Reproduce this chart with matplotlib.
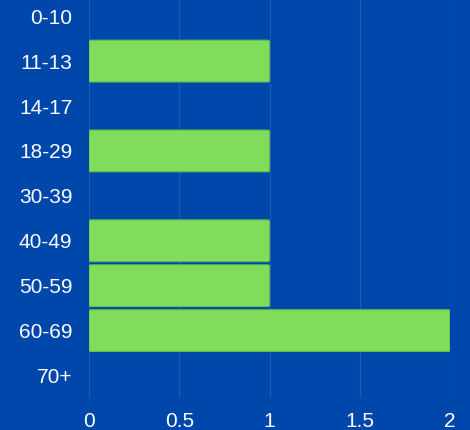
import matplotlib.pyplot as plt
from matplotlib.patches import FancyBboxPatch

ages = ["0-10", "11-13", "14-17", "18-29", "30-39", "40-49", "50-59", "60-69", "70+"]
counts = [0, 1, 0, 1, 0, 1, 1, 2, 0]

bg = "#0047ab"
plt.rcParams['font.family'] = ['Liberation Sans', 'DejaVu Sans']

fig = plt.figure(figsize=(4.7, 4.3), dpi=100, facecolor=bg)
ax = fig.add_axes([89/470, 32/430, 361/470, 398/430])
ax.set_facecolor(bg)

bars = ax.barh(range(len(ages)), counts, height=0.93, color="#80dc5a")
# swap plain bars for slightly rounded ones
for b in bars:
    x, y = b.get_x(), b.get_y()
    w, h = b.get_width(), b.get_height()
    b.remove()
    if w == 0:
        continue
    ax.add_patch(FancyBboxPatch((x, y), w, h,
                                boxstyle="round,pad=0,rounding_size=0.009",
                                mutation_aspect=4.0, facecolor="#80dc5a",
                                edgecolor="#5fbf4a", linewidth=0.8, zorder=3))

ax.set_xlim(0, 2)
ax.set_ylim(8.5, -0.36)
ax.set_yticks(range(len(ages)))
ax.set_yticklabels(ages)
ax.set_xticks([0, 0.5, 1, 1.5, 2])
ax.set_xticklabels(["0", "0.5", "1", "1.5", "2"])
ax.grid(axis="x", color="#1f5bb6", linewidth=0.8, zorder=0)
ax.set_axisbelow(True)
for s in ax.spines.values():
    s.set_visible(False)
ax.tick_params(axis="both", length=0, colors="white", labelsize=15)
ax.tick_params(axis="y", pad=12)
ax.tick_params(axis="x", pad=10)

fig.savefig("out.png", dpi=100, facecolor=bg)
